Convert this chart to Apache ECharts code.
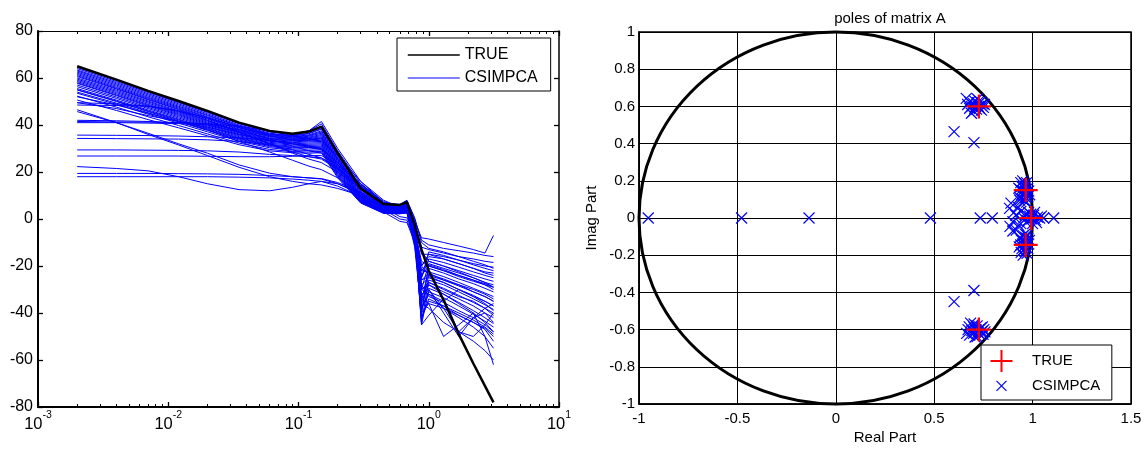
<!DOCTYPE html>
<html><head><meta charset="utf-8">
<script src="https://cdn.jsdelivr.net/npm/echarts@6/dist/echarts.min.js"></script>
<style>html,body{margin:0;padding:0;background:#fff}#c{width:1148px;height:452px}</style>
</head><body><div id="c"></div>
<script>
// ---------- Left panel: magnitude (dB) vs normalized frequency ----------
const freq = [0.002, 0.004, 0.007, 0.012, 0.02, 0.035, 0.06, 0.09, 0.12, 0.15, 0.2, 0.3, 0.45, 0.6, 0.68, 0.78, 0.88, 1.0, 1.3, 1.7, 2.2, 2.7, 3.14];
const trueMag = [65, 59.3, 54.5, 50.2, 46, 41, 37.5, 36.3, 37.2, 39.3, 28, 13, 6.4, 6, 7.2, -2.5, -13, -22, -34.5, -49, -61.5, -71, -78];
const estMag = [
  [64.5, 59, 54.2, 49.8, 45.6, 40.8, 37.2, 36, 37, 39, 28.5, 14, 6.8, 6, 7.6, -1, -8, -8.5, -10, -11.5, -13, -14.5, -7],
  [64, 58.5, 53.8, 49.5, 45.3, 40.5, 37, 36.2, 37.5, 40.5, 29, 15, 6.8, 6, 7.8, 0, -9, -11, -12.5, -13.5, -14.5, -15.5, -16],
  [63.4, 58, 53.3, 49, 44.8, 40, 36.5, 35.5, 36.5, 38.5, 27.5, 14, 6, 5.5, 7, -2, -12, -13, -14.5, -16, -17, -18, -18.5],
  [63, 57.5, 52.8, 48.5, 44.3, 39.6, 36.2, 35.2, 36.3, 38.2, 27, 13, 5.8, 5.2, 6.8, -1.5, -15, -15, -16, -17.5, -19, -20, -20.5],
  [62.5, 57, 52.3, 48, 44, 39.3, 36, 35.5, 37.5, 41.5, 30, 16, 7, 6.2, 8, 0.5, -10, -12.5, -14, -16, -18, -19.5, -21],
  [62, 56.5, 51.8, 47.6, 43.5, 39, 35.8, 35, 35.8, 37.5, 26.5, 12, 5.5, 5, 6.5, -3, -20, -16, -17, -19, -21, -22.5, -23],
  [61.5, 56, 51.4, 47.2, 43.2, 38.7, 35.5, 34.8, 35.5, 37, 26, 11.5, 5.3, 4.8, 6.2, -3.5, -25, -17, -18.5, -20.5, -22.5, -24, -25],
  [61, 55.6, 51, 46.8, 42.8, 38.3, 35.2, 34.5, 35.2, 36.5, 25.5, 11, 5, 4.6, 6, -4, -14, -18, -20, -22, -24, -25.5, -26.5],
  [60.6, 55.3, 50.7, 46.5, 42.5, 38, 35, 34.3, 34.8, 36, 25, 10.5, 4.8, 4.4, 5.8, -2, -30, -19, -21, -23, -25, -27, -28],
  [60, 54.8, 50.2, 46, 42, 37.6, 34.6, 34, 34.5, 35.5, 24.5, 10, 4.6, 4.2, 5.5, -5, -18, -20, -22, -24.5, -26.5, -28, -29],
  [59.5, 54.3, 49.8, 45.6, 41.6, 37.3, 34.3, 33.8, 34.2, 35, 24, 9.8, 4.4, 4, 5.3, -4.5, -35, -21, -23, -25.5, -27.5, -29.5, -31],
  [59, 53.8, 49.3, 45.2, 41.2, 37, 34, 33.5, 34, 34.5, 23.5, 9.5, 4.2, 3.8, 5, -6, -22, -22.5, -24.5, -27, -29.5, -31.5, -33],
  [58.5, 53.3, 48.8, 44.8, 40.8, 36.6, 33.7, 33.2, 33.6, 34, 23, 9.2, 4, 3.6, 4.8, -5, -40, -23.5, -25.5, -28, -31, -33, -35],
  [58, 52.8, 48.4, 44.4, 40.4, 36.2, 33.3, 32.8, 33.2, 33.5, 22.5, 9, 3.8, 3.5, 4.6, -7, -26, -24.5, -27, -30, -32.5, -35, -37],
  [57.7, 52.5, 48, 44, 40, 35.8, 33, 32.5, 32.8, 33, 22, 8.8, 3.6, 3.3, 4.4, -6, -44, -26, -28, -31, -34, -36.5, -38.5],
  [57, 51.9, 47.5, 43.5, 39.6, 35.4, 32.6, 32, 32.3, 32.5, 21.5, 8.5, 3.5, 3.2, 4.2, -8, -30, -27, -29.5, -32.5, -35.5, -38, -40],
  [56.3, 51.3, 47, 43, 39.2, 35, 32.2, 31.5, 31.8, 32, 21, 8.3, 3.3, 3, 4, -7, -36, -28, -31, -34, -37, -40, -42],
  [55.5, 50.6, 46.4, 42.5, 38.7, 34.6, 31.8, 31, 31.3, 31.5, 20.5, 8, 3.2, 2.9, 3.8, -9, -32, -29.5, -32, -35.5, -39, -42, -44.5],
  [55, 50.2, 46, 42.2, 38.4, 34.3, 31.5, 30.6, 30.8, 31, 20, 7.8, 3, 2.8, 3.6, -8, -38, -31, -33.5, -37, -40.5, -43.5, -46],
  [54.9, 50, 45.7, 41.8, 38, 34, 31.2, 30.3, 30.4, 30.5, 19.5, 7.6, 2.9, 2.6, 3.4, -10, -28, -33, -35.5, -39, -42, -45, -48],
  [54, 49.3, 45.2, 41.4, 37.7, 33.6, 30.8, 29.8, 29.8, 30, 19, 7.4, 2.8, 2.5, 3.2, -9, -42, -35, -37, -40, -43, -46, -49],
  [53.5, 48.8, 44.6, 40.8, 37.1, 33.1, 30.3, 29.3, 29.2, 29.4, 18.5, 7.2, 2.6, 2.4, 3, -11, -34, -36, -38, -41, -44, -46.5, -50],
  [52.3, 47.6, 43.5, 39.8, 36.2, 32.3, 29.6, 28.7, 28.5, 28.8, 18, 7, 2.5, 2.3, 2.8, -10, -25, -14, -15.5, -17.5, -19.5, -21, -22],
  [50.6, 46.2, 42.3, 38.8, 35.4, 31.6, 29, 28.2, 28, 28.2, 17.5, 6.8, 2.4, 2.2, 2.6, -12, -40, -19.5, -21.5, -24, -26, -27.5, -29],
  [49.5, 47, 44, 41.5, 39, 36, 33.5, 32, 31, 30, 24, 14, 7, 4.5, 5, -6, -20, -15, -17, -19, -21, -23, -24],
  [48.5, 48.3, 48, 46, 42, 37, 32, 28, 25.5, 24, 20, 13, 6.5, 4, 4.5, -5, -28, -25, -27, -30, -33, -35, -37],
  [46.5, 41, 36, 31.5, 27, 22, 18, 16, 15, 14.5, 13, 10, 5, 2.5, 2.5, -3, -45, -30, -38, -48, -50, -45, -40],
  [42, 41.8, 41.5, 41, 40.5, 39.5, 37.5, 35.5, 34, 33, 27, 16, 8, 5, 5.5, -4, -24, -20, -22, -24, -26, -28, -30],
  [41.5, 41.3, 41.2, 41, 40.5, 38, 34, 31, 29, 28, 23, 14.5, 7, 4.2, 4.5, -6, -33, -27, -30, -33, -35, -38, -41],
  [41, 41, 40.8, 40.6, 40, 37, 32, 28.5, 26.5, 25.5, 21, 13.5, 6.5, 3.5, 4, -7, -38, -32, -35, -30, -33, -36, -39],
  [35.7, 35.6, 35.5, 35.3, 35, 34.5, 33.5, 32, 30.5, 29.5, 24, 15, 7.5, 4.8, 5.2, -5, -26, -23, -26, -28.5, -31, -33, -35],
  [34.3, 34.2, 34.1, 34, 33.7, 33, 31.5, 29.5, 27.5, 26, 21.5, 13.5, 6.5, 3.8, 4, -8, -42, -34, -37, -41, -44, -47, -52],
  [29.4, 29.4, 29.3, 29.2, 29, 28.5, 27.5, 27, 26.5, 26, 22, 14, 6.5, 3.5, 3.5, -8, -34, -30, -40, -50, -42, -40, -44],
  [26.8, 26.8, 26.8, 26.8, 26.7, 26.5, 26.5, 26.7, 27, 27, 23, 15, 7, 4, 4, -7, -30, -28, -32, -36, -40, -44, -48],
  [22.3, 21.5, 20.5, 18, 15, 12.5, 12, 13.5, 15, 16, 15, 11, 5, 1, 0.5, -6, -40, -36, -50, -45, -40, -50, -62],
  [19.4, 19.4, 19.4, 19.3, 19.2, 19, 18.5, 18, 17.5, 17, 15, 10.5, 4, 0, -0.5, -9, -30, -32, -38, -42, -46, -50, -55],
  [18, 18, 18, 18, 18, 17.8, 17.5, 17, 16.5, 16, 14, 9.5, 3, -1, -1.5, -10, -36, -38, -44, -48, -52, -56, -60],
  [52, 48.5, 45, 41.5, 38, 33, 28.5, 25, 22.5, 21, 17.5, 11, 5, 2.5, 2.8, -7, -22, -18, -20, -22.5, -25, -27, -29],
  [45.7, 41, 36.5, 32, 28, 23, 19.5, 18, 17.5, 17.2, 15.5, 11.5, 5.5, 2.8, 2.8, -6, -45, -41, -34, -48, -42, -38, -36],
  [49.5, 49, 48, 46, 43, 39, 35.5, 33.5, 33.5, 34.5, 25.5, 12.5, 5.5, 4, 5, -6, -20, -24, -26, -28, -30, -32, -34]
];
const magTicks = [-80, -60, -40, -20, 0, 20, 40, 60, 80];
const decadeExp = [-3, -2, -1, 0, 1];
const minorTickFreq = [0.002,0.003,0.004,0.005,0.006,0.007,0.008,0.009,
  0.02,0.03,0.04,0.05,0.06,0.07,0.08,0.09,
  0.2,0.3,0.4,0.5,0.6,0.7,0.8,0.9,
  2,3,4,5,6,7,8,9];

// ---------- Right panel: poles ----------
const unitCircle = [0, 0, 1];
const polesTrue = [[0.727, 0.6], [0.727, -0.6], [0.965, 0.15], [0.965, -0.145], [0.993, 0]];
const polesEst = [
  [-0.953,0],[-0.479,0],[-0.136,0],[0.481,0],[0.734,0],[0.795,0],
  [0.601,0.464],[0.702,0.405],[0.601,-0.45],[0.702,-0.39],[1.056,0],[1.107,0],
  [0.883,0.052],[0.9,-0.02],[0.934,0.097],[0.917,-0.065],[0.89,0.08],[0.905,0.03],[0.925,0.06],
  [0.9,-0.07],[0.93,-0.04],[0.885,-0.045],[0.915,0.015],[0.94,0.035],[0.94,-0.03],
  [0.663,0.643],[0.689,0.563],[0.706,0.59],[0.67,0.61],[0.68,0.625],[0.69,0.6],[0.7,0.615],[0.705,0.63],
  [0.71,0.6],[0.715,0.585],[0.72,0.62],[0.725,0.6],[0.73,0.59],[0.735,0.625],[0.74,0.605],[0.745,0.615],
  [0.75,0.595],[0.755,0.61],[0.7,0.575],[0.72,0.64],[0.68,0.59],[0.74,0.58],
  [0.665,-0.62],[0.685,-0.565],[0.7,-0.585],[0.672,-0.6],[0.68,-0.63],[0.692,-0.605],[0.7,-0.62],[0.708,-0.64],
  [0.712,-0.6],[0.718,-0.58],[0.722,-0.615],[0.728,-0.6],[0.732,-0.625],[0.738,-0.59],[0.742,-0.61],[0.748,-0.625],
  [0.752,-0.6],[0.758,-0.612],[0.703,-0.57],[0.718,-0.638],[0.678,-0.585],[0.745,-0.585],
  [0.94,0.19],[0.95,0.2],[0.96,0.185],[0.97,0.19],[0.945,0.17],[0.955,0.165],[0.965,0.17],[0.975,0.16],
  [0.94,0.15],[0.95,0.145],[0.96,0.14],[0.97,0.135],[0.98,0.145],[0.945,0.125],[0.955,0.12],[0.965,0.11],
  [0.975,0.115],[0.95,0.1],[0.96,0.09],[0.97,0.085],[0.935,0.11],[0.985,0.125],[0.93,0.16],
  [0.942,-0.185],[0.952,-0.2],[0.962,-0.18],[0.972,-0.19],[0.946,-0.165],[0.956,-0.17],[0.966,-0.16],[0.976,-0.165],
  [0.94,-0.145],[0.95,-0.14],[0.96,-0.15],[0.97,-0.13],[0.98,-0.14],[0.944,-0.12],[0.955,-0.125],[0.965,-0.105],
  [0.975,-0.11],[0.952,-0.095],[0.962,-0.085],[0.972,-0.09],[0.936,-0.105],[0.984,-0.12],[0.932,-0.155],
  [0.955,0.0],[0.965,0.02],[0.975,-0.015],[0.985,0.01],[0.995,-0.005],[1.005,0.015],[1.015,-0.01],[1.025,0.005],
  [1.035,0.0],[1.045,0.01],[0.98,0.03],[1.0,-0.03],[0.97,-0.025],[1.01,0.03],[1.02,-0.025],[0.99,0.02]
];

const FONT = '"Liberation Sans", Arial, sans-serif';
const plusPath = 'path://M0,11L22,11M11,0L11,22';
const crossPath = 'path://M0,0L10,10M0,10L10,0';
const crossLegendPath = 'path://M0,0M6,6L16,16M6,16L16,6M22,22';

const chart = echarts.init(document.getElementById('c'), null, {renderer: 'canvas'});

const blueSeries = estMag.map(row => ({
  type: 'line', name: 'CSIMPCA', xAxisIndex: 0, yAxisIndex: 0,
  data: freq.map((f, j) => [f, row[j]]),
  symbol: 'none', showSymbol: false,
  lineStyle: {color: '#0000ff', width: 1},
  itemStyle: {color: '#0000ff'},
  z: 2, silent: true, animation: false
}));

const minorExp = minorTickFreq.map(v => Math.log10(v));
const tickAxisBase = {gridIndex: 0, type: 'value', min: -3, max: 1, interval: 1, splitLine: {show: false}};

const option = {
  animation: false,
  backgroundColor: '#fff',
  title: {
    text: 'poles of matrix A', left: 885, top: 6, textAlign: 'center',
    textStyle: {fontSize: 15, fontWeight: 'normal', color: '#000', fontFamily: FONT}
  },
  legend: [
    {
      data: [
        {name: 'TRUE', itemStyle: {opacity: 0}, lineStyle: {width: 1.5, color: '#000'}},
        {name: 'CSIMPCA', itemStyle: {opacity: 0}, lineStyle: {width: 1, color: '#0000ff'}}
      ],
      left: 397, top: 38, orient: 'vertical',
      itemWidth: 52, itemHeight: 16, itemGap: 7, padding: [9, 13, 5, 10],
      borderColor: '#000', borderWidth: 1, borderRadius: 0, backgroundColor: '#fff',
      textStyle: {fontSize: 16, color: '#000', fontFamily: FONT}, selectedMode: false
    },
    {
      data: [
        {name: 'TRUE (poles)', icon: plusPath, itemStyle: {color: 'rgba(0,0,0,0)', borderColor: '#ff0000', borderWidth: 2}},
        {name: 'CSIMPCA (poles)', icon: crossLegendPath, itemStyle: {color: 'rgba(0,0,0,0)', borderColor: '#0000ff', borderWidth: 1.2}}
      ],
      formatter: n => n.replace(' (poles)', ''),
      left: 981, top: 345, orient: 'vertical',
      itemWidth: 51, itemHeight: 22, itemGap: 1.3, padding: [4, 11.5, 2.5, 8.5],
      borderColor: '#000', borderWidth: 1, borderRadius: 0, backgroundColor: '#fff',
      textStyle: {fontSize: 15, color: '#000', fontFamily: FONT}, selectedMode: false
    }
  ],
  grid: [
    {left: 38, right: 589, top: 31, bottom: 45, containLabel: false, outerBoundsMode: 'none'},
    {left: 639, right: 17, top: 32, bottom: 48, containLabel: false, outerBoundsMode: 'none',
     show: true, borderColor: '#000', borderWidth: 1.5, backgroundColor: 'rgba(0,0,0,0)'}
  ],
  xAxis: [
    {gridIndex: 0, type: 'log', logBase: 10, min: 0.001, max: 10, show: false},
    Object.assign({}, tickAxisBase, {
      position: 'bottom',
      axisLine: {show: true, onZero: false, lineStyle: {color: '#000', width: 2}},
      axisTick: {show: true, inside: true, length: 5, lineStyle: {color: '#000', width: 1.3}},
      axisLabel: {
        show: true, margin: 3, color: '#000', fontFamily: FONT,
        formatter: v => '{b|10}{s|' + v + '}',
        rich: {
          b: {fontSize: 16.5, lineHeight: 28, verticalAlign: 'middle', fontFamily: FONT, color: '#000'},
          s: {fontSize: 10.5, lineHeight: 10, verticalAlign: 'top', fontFamily: FONT, color: '#000'}
        }
      }
    }),
    Object.assign({}, tickAxisBase, {
      position: 'bottom',
      axisLine: {show: false, onZero: false},
      axisTick: {show: true, inside: true, length: 3, customValues: minorExp, lineStyle: {color: '#000', width: 1}},
      axisLabel: {show: false}
    }),
    Object.assign({}, tickAxisBase, {
      position: 'top',
      axisLine: {show: true, onZero: false, lineStyle: {color: '#000', width: 1}},
      axisTick: {show: true, inside: true, length: 5, lineStyle: {color: '#000', width: 1.3}},
      axisLabel: {show: false}
    }),
    Object.assign({}, tickAxisBase, {
      position: 'top',
      axisLine: {show: false, onZero: false},
      axisTick: {show: true, inside: true, length: 3, customValues: minorExp, lineStyle: {color: '#000', width: 1}},
      axisLabel: {show: false}
    }),
    {
      gridIndex: 1, type: 'value', min: -1, max: 1.5, interval: 0.5, position: 'bottom',
      name: 'Real Part', nameLocation: 'middle', nameGap: 26, nameMoveOverlap: false,
      nameTextStyle: {fontSize: 15, color: '#000', fontFamily: FONT},
      axisLine: {show: true, onZero: false, lineStyle: {color: '#000', width: 1.5}},
      axisTick: {show: false},
      axisLabel: {fontSize: 15, color: '#000', fontFamily: FONT, margin: 7},
      splitLine: {show: true, lineStyle: {color: '#000', width: 1}}
    }
  ],
  yAxis: [
    {
      gridIndex: 0, type: 'value', min: -80, max: 80, interval: 20, position: 'left',
      axisLine: {show: true, onZero: false, lineStyle: {color: '#000', width: 2}},
      axisTick: {show: true, inside: true, length: 5, lineStyle: {color: '#000', width: 1.3}},
      axisLabel: {fontSize: 16, color: '#000', fontFamily: FONT, margin: 5},
      splitLine: {show: false}
    },
    {
      gridIndex: 0, type: 'value', min: -80, max: 80, interval: 20, position: 'right',
      axisLine: {show: true, onZero: false, lineStyle: {color: '#000', width: 1.5}},
      axisTick: {show: true, inside: true, length: 5, lineStyle: {color: '#000', width: 1.3}},
      axisLabel: {show: false},
      splitLine: {show: false}
    },
    {
      gridIndex: 1, type: 'value', min: -1, max: 1, interval: 0.2, position: 'left',
      name: 'Imag Part', nameLocation: 'middle', nameGap: 40, nameRotate: 90, nameMoveOverlap: false,
      nameTextStyle: {fontSize: 15, color: '#000', fontFamily: FONT},
      axisLine: {show: true, onZero: false, lineStyle: {color: '#000', width: 1.5}},
      axisTick: {show: false},
      axisLabel: {fontSize: 15, color: '#000', fontFamily: FONT, margin: 4},
      splitLine: {show: true, lineStyle: {color: '#000', width: 1}}
    }
  ],
  series: blueSeries.concat([
    {
      type: 'line', name: 'TRUE', xAxisIndex: 0, yAxisIndex: 0,
      data: freq.map((f, j) => [f, trueMag[j]]),
      symbol: 'none', showSymbol: false,
      lineStyle: {color: '#000', width: 2.5}, itemStyle: {color: '#000'},
      z: 3, silent: true
    },
    {
      type: 'custom', xAxisIndex: 5, yAxisIndex: 2, silent: true, z: 2,
      data: [unitCircle],
      renderItem: (params, api) => {
        const c = api.coord([api.value(0), api.value(1)]);
        const px = api.coord([api.value(0) + api.value(2), api.value(1)]);
        const py = api.coord([api.value(0), api.value(1) + api.value(2)]);
        const rx = px[0] - c[0], ry = c[1] - py[1];
        return {
          type: 'circle', x: c[0], y: c[1], scaleY: ry / rx,
          shape: {cx: 0, cy: 0, r: rx},
          style: {fill: 'none', stroke: '#000', lineWidth: 3, strokeNoScale: true}
        };
      }
    },
    {
      type: 'scatter', name: 'CSIMPCA (poles)', xAxisIndex: 5, yAxisIndex: 2,
      data: polesEst, symbol: crossPath, symbolSize: 11,
      itemStyle: {color: 'rgba(0,0,0,0)', borderColor: '#0000ff', borderWidth: 1.2, opacity: 1},
      z: 3, silent: true
    },
    {
      type: 'scatter', name: 'TRUE (poles)', xAxisIndex: 5, yAxisIndex: 2,
      data: polesTrue, symbol: plusPath, symbolSize: 24,
      itemStyle: {color: 'rgba(0,0,0,0)', borderColor: '#ff0000', borderWidth: 2.2, opacity: 1},
      z: 4, silent: true
    }
  ])
};
chart.setOption(option);
</script>
</body></html>
